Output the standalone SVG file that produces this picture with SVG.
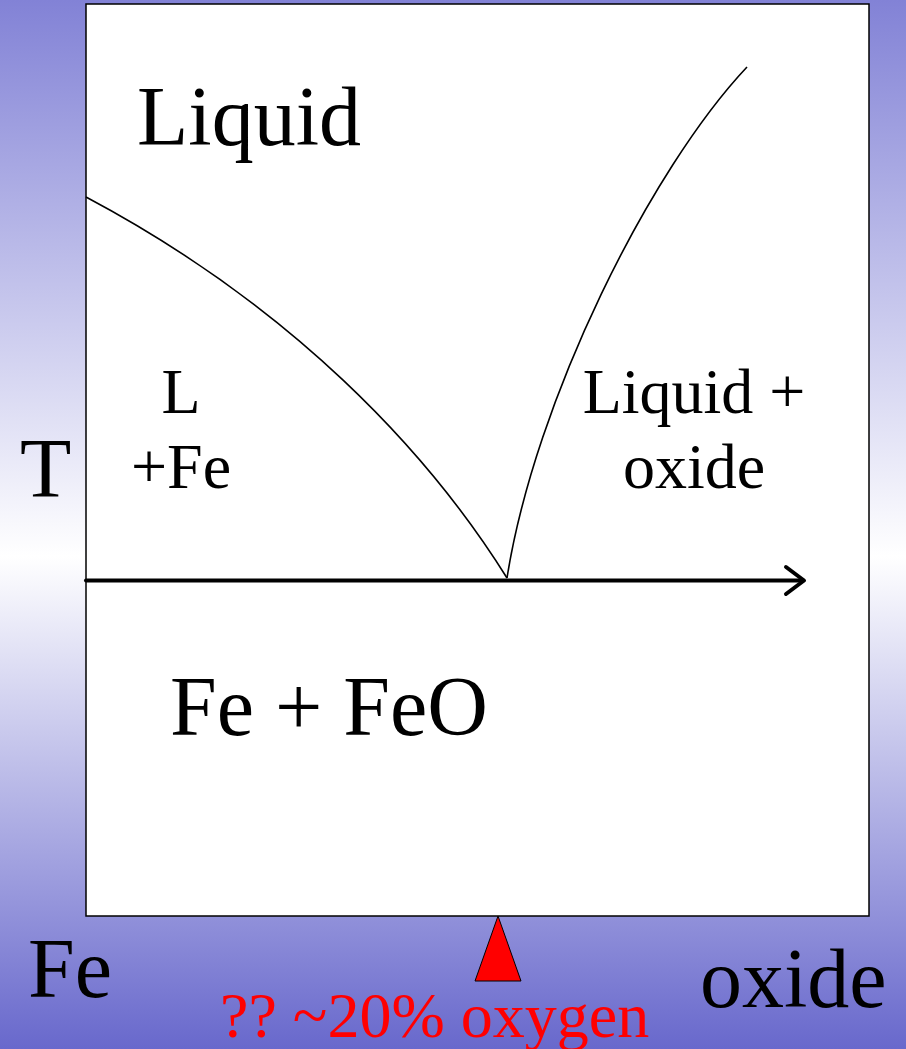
<svg xmlns="http://www.w3.org/2000/svg" width="906" height="1049" viewBox="0 0 906 1049">
<defs>
<linearGradient id="bg" x1="0" y1="0" x2="0" y2="1">
<stop offset="0" stop-color="#8282d6"/>
<stop offset="0.53" stop-color="#ffffff"/>
<stop offset="1" stop-color="#6868cc"/>
</linearGradient>
</defs>
<style>
text{font-family:"Liberation Serif","Times New Roman",serif;fill:#000}
.big{font-size:84px}
.mid{font-size:64px}
.curve{fill:none;stroke:#000;stroke-width:1.6}
.axis{fill:none;stroke:#000;stroke-width:4;stroke-linecap:round;stroke-linejoin:round}
</style>
<rect x="0" y="0" width="906" height="1049" fill="url(#bg)"/>
<g id="plot">
<rect x="86" y="4" width="783" height="912" fill="#ffffff" stroke="#000" stroke-width="1.5"/>
</g>
<g id="connectors">
<path class="curve" d="M86,197 C291,306 427,450 507,578"/>
<path class="curve" d="M507,578 C535,400 650,170 747,67"/>
<path class="axis" d="M86,580.5 H803"/>
<path class="axis" d="M786,567 L804,580.5 L786,594"/>
</g>
<g id="label-liquid"><text class="big" x="137" y="145">Liquid</text></g>
<g id="label-T"><text class="big" x="20" y="497">T</text></g>
<g id="label-LFe"><text class="mid" x="181" y="413" text-anchor="middle">L</text><text class="mid" x="181" y="488" text-anchor="middle">+Fe</text></g>
<g id="label-liquid-oxide"><text class="mid" x="694" y="413" text-anchor="middle">Liquid +</text><text class="mid" x="694" y="488" text-anchor="middle">oxide</text></g>
<g id="label-FeFeO"><text class="big" x="170" y="735">Fe + FeO</text></g>
<g id="label-Fe"><text class="big" x="28" y="997">Fe</text></g>
<g id="label-oxide"><text class="big" x="700" y="1007">oxide</text></g>
<g id="marker">
<polygon points="475,981 521,981 498,916" fill="#ff0000" stroke="#000" stroke-width="1"/>
<text class="mid" x="220" y="1037" style="fill:#ff0000">?? ~20% oxygen</text>
</g>
</svg>
